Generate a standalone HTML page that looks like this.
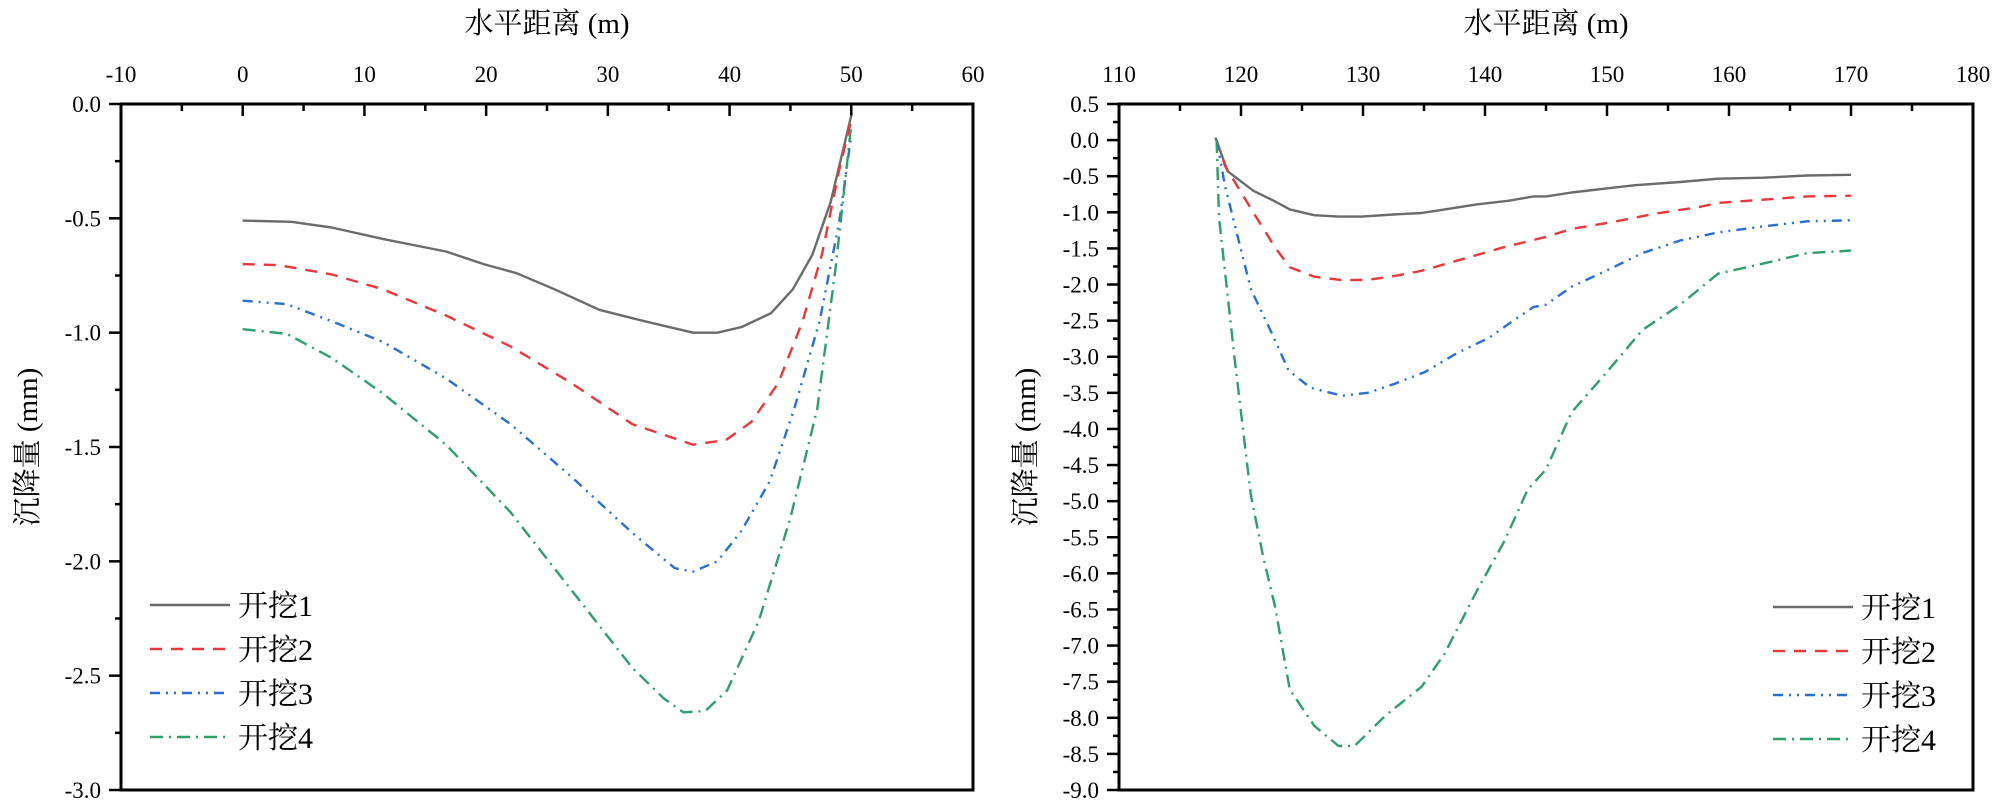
<!DOCTYPE html>
<html><head><meta charset="utf-8"><style>
html,body{margin:0;padding:0;background:#fff;}
svg{display:block;font-family:"Liberation Serif","Noto Serif CJK SC",serif;}
</style></head><body>
<svg id="chart" width="2000" height="811" viewBox="0 0 2000 811" xmlns="http://www.w3.org/2000/svg"></svg>
<script>
// ---- Left chart data ----
const leftX1 = [0,4,7.3,11.5,16.7,19.8,22.5,25.6,29.3,33,37,39,41,43.4,45.2,46.8,48.3,50];
const leftY1 = [-0.51,-0.515,-0.54,-0.59,-0.645,-0.70,-0.74,-0.81,-0.90,-0.95,-1.0,-1.0,-0.975,-0.915,-0.81,-0.66,-0.43,-0.05];
const leftX2 = [0,3,7.3,11.5,16.7,22,27,32,37,39.7,41.8,44,46,47.6,49,50];
const leftY2 = [-0.70,-0.705,-0.745,-0.81,-0.925,-1.06,-1.22,-1.40,-1.49,-1.47,-1.39,-1.22,-0.95,-0.655,-0.29,-0.07];
const leftX3 = [0,3.6,7.3,11.5,16.7,22,27,32,35.5,37,39,41,43.3,45.3,47.4,49,50];
const leftY3 = [-0.86,-0.875,-0.95,-1.04,-1.20,-1.40,-1.63,-1.875,-2.03,-2.045,-2.0,-1.865,-1.65,-1.335,-0.95,-0.52,-0.135];
const leftX4 = [0,3.6,7.3,11.5,16.7,22,27,32,34.6,36.2,38,39.8,42.4,45,47.2,48.7,50];
const leftY4 = [-0.985,-1.005,-1.11,-1.265,-1.49,-1.785,-2.125,-2.465,-2.60,-2.66,-2.655,-2.565,-2.26,-1.81,-1.335,-0.72,-0.09];
const leftXTicks = [-10,0,10,20,30,40,50,60];
const leftYTicks = [0,-0.5,-1.0,-1.5,-2.0,-2.5,-3.0];
// ---- Right chart data ----
const rightX1 = [117.9,118.9,121,122.8,124,126,128,129.9,132.5,134.8,136.7,139.3,141.9,144,145,147.1,149.7,152.3,156,159.1,162.8,166.4,170];
const rightY1 = [0.035,-0.43,-0.70,-0.85,-0.96,-1.04,-1.06,-1.06,-1.03,-1.01,-0.96,-0.89,-0.84,-0.78,-0.78,-0.725,-0.675,-0.625,-0.58,-0.535,-0.52,-0.49,-0.48];
const rightX2 = [118,118.7,121,122.8,124,126,128.3,130.4,132.5,134.8,137.7,141.4,145,147.1,150.3,153.9,157.6,159.1,162.8,166.4,170];
const rightY2 = [0,-0.36,-1.0,-1.49,-1.76,-1.89,-1.94,-1.935,-1.885,-1.81,-1.67,-1.49,-1.34,-1.23,-1.14,-1.02,-0.925,-0.87,-0.825,-0.78,-0.77];
const rightX3 = [118,118.7,120.8,122.6,123.9,125.7,128.3,130.4,132.5,135.1,137.7,140.3,142.4,144,145,147.1,150.3,152.9,156,159.1,162.8,166.4,170];
const rightY3 = [0,-0.64,-2.06,-2.70,-3.19,-3.43,-3.54,-3.50,-3.38,-3.21,-2.95,-2.74,-2.49,-2.31,-2.28,-2.03,-1.78,-1.565,-1.39,-1.28,-1.195,-1.125,-1.11];
const rightX4 = [118,118.2,119.5,120.8,121.8,122.8,124,126,128,129.3,131.9,134.8,136.7,139.3,141.6,143.5,145,147.1,149.7,152.9,156,159.1,162.8,166.4,170];
const rightY4 = [0,-1.07,-3.06,-4.91,-5.76,-6.47,-7.61,-8.11,-8.39,-8.39,-7.96,-7.57,-7.11,-6.25,-5.55,-4.84,-4.56,-3.77,-3.27,-2.63,-2.28,-1.85,-1.71,-1.565,-1.53];
const rightXTicks = [110,120,130,140,150,160,170,180];
const rightYTicks = [0.5,0,-0.5,-1.0,-1.5,-2.0,-2.5,-3.0,-3.5,-4.0,-4.5,-5.0,-5.5,-6.0,-6.5,-7.0,-7.5,-8.0,-8.5,-9.0];
const seriesNames = ["开挖1","开挖2","开挖3","开挖4"];

const NS="http://www.w3.org/2000/svg";
const svg=document.getElementById('chart');
const colors=["#6b6b6b","#e8383b","#2a6fcf","#2e9e6a"];
const dashes=["","12 9","10 6 2 6 2 6","13 6 2 6"];
function mk(tag,attrs,parent){const e=document.createElementNS(NS,tag);for(const k in attrs)e.setAttribute(k,attrs[k]);(parent||svg).appendChild(e);return e;}

function drawChart(cfg){
  const g=mk('g',{});
  
  
  const L=cfg.left,R=cfg.right,T=104,B=790;
  const sx=v=>L+(v-cfg.xmin)/(cfg.xmax-cfg.xmin)*(R-L);
  const sy=v=>T+(cfg.ymax-v)/(cfg.ymax-cfg.ymin)*(B-T);
  const frame=mk('rect',{x:L,y:T,width:R-L,height:B-T,fill:'none',stroke:'#000','stroke-width':3},g);
  
  
  // top ticks
  cfg.xticks.forEach((v,i)=>{
    const x=sx(v);
    mk('line',{x1:x,y1:T,x2:x,y2:T+12,stroke:'#000','stroke-width':2.5},g);
    if(i<cfg.xticks.length-1){const xm=sx(v+(cfg.xticks[1]-cfg.xticks[0])/2);mk('line',{x1:xm,y1:T,x2:xm,y2:T+7,stroke:'#000','stroke-width':2.5},g);}
    const t=mk('text',{x:x,y:82,'font-size':23,'text-anchor':'middle'},g);
    t.textContent=String(v);
    
    
  });
  const step=cfg.yticks[0]-cfg.yticks[1];
  cfg.yticks.forEach((v,i)=>{
    const y=sy(v);
    mk('line',{x1:L-12,y1:y,x2:L,y2:y,stroke:'#000','stroke-width':2.5},g);
    if(i<cfg.yticks.length-1){const ym=sy(v-step/2);mk('line',{x1:L-6,y1:ym,x2:L,y2:ym,stroke:'#000','stroke-width':2.5},g);}
    const t=mk('text',{x:L-20,y:y+8,'font-size':23,'text-anchor':'end'},g);
    t.textContent=v.toFixed(1);
    
    
  });
  const xt=mk('text',{x:(L+R)/2,y:33,'font-size':29,'text-anchor':'middle'},g);
  xt.textContent='水平距离 (m)';
  
  
  const yt=mk('text',{x:0,y:0,'font-size':29,'text-anchor':'middle',transform:`translate(${L-84},${(T+B)/2}) rotate(-90)`},g);
  yt.textContent='沉降量 (mm)';
  
  
  cfg.series.forEach((s,i)=>{
    const d=s[0].map((x,j)=>(j?'L':'M')+sx(x).toFixed(1)+','+sy(s[1][j]).toFixed(1)).join(' ');
    const p=mk('path',{d:d,fill:'none',stroke:colors[i],'stroke-width':2.4,'stroke-dasharray':dashes[i],'stroke-linejoin':'round'},g);
    
    
  });
  seriesNames.forEach((n,i)=>{
    const y=cfg.legY+i*44;
    const lg=mk('g',{},g);
    
    
    mk('line',{x1:cfg.legX,y1:y,x2:cfg.legX+80,y2:y,stroke:colors[i],'stroke-width':2.4,'stroke-dasharray':dashes[i]},lg);
    const t=mk('text',{x:cfg.legX+88,y:y+11,'font-size':30},lg);
    t.textContent=n;
  });
}
drawChart({name:'left-chart',left:121,right:973,xmin:-10,xmax:60,ymin:-3,ymax:0,xticks:leftXTicks,yticks:leftYTicks,
  series:[[leftX1,leftY1],[leftX2,leftY2],[leftX3,leftY3],[leftX4,leftY4]],legX:150,legY:605});
drawChart({name:'right-chart',left:1119,right:1973,xmin:110,xmax:180,ymin:-9,ymax:0.5,xticks:rightXTicks,yticks:rightYTicks,
  series:[[rightX1,rightY1],[rightX2,rightY2],[rightX3,rightY3],[rightX4,rightY4]],legX:1773,legY:607});
</script>
</body></html>
